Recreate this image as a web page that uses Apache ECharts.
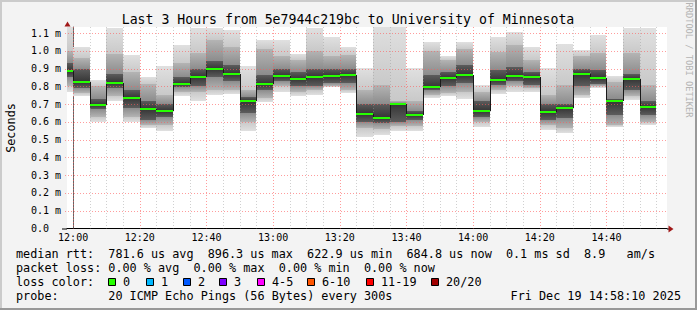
<!DOCTYPE html>
<html><head><meta charset="utf-8">
<script src="https://cdn.jsdelivr.net/npm/echarts@6/dist/echarts.min.js"></script>
<style>html,body{margin:0;padding:0;background:#f3f3f3;}#c{width:697px;height:310px;}</style>
</head><body><div id="c"></div>
<script>
// ---------------- data ----------------
const rangeStart = '11:58:10';
const rangeEnd = '14:58:10';
const stepBounds = ['11:55','12:00','12:05','12:10','12:15','12:20','12:25','12:30','12:35','12:40','12:45','12:50','12:55',
  '13:00','13:05','13:10','13:15','13:20','13:25','13:30','13:35','13:40','13:45','13:50','13:55',
  '14:00','14:05','14:10','14:15','14:20','14:25','14:30','14:35','14:40','14:45','14:50','14:55'];
const xMajorTicks = ['12:00','12:20','12:40','13:00','13:20','13:40','14:00','14:20','14:40'];
const yTickValues = [0.1,0.2,0.3,0.4,0.5,0.6,0.7,0.8,0.9,1.0,1.1];
const yTickLabels = ['0.0','0.1 m','0.2 m','0.3 m','0.4 m','0.5 m','0.6 m','0.7 m','0.8 m','0.9 m','1.0 m','1.1 m'];
// median rtt per 5-minute step (ms)
const median = [0.887,0.826,0.696,0.820,0.737,0.670,0.662,0.814,0.850,0.896,0.871,0.719,0.814,0.859,0.844,0.854,0.859,0.865,
  0.647,0.623,0.702,0.636,0.797,0.848,0.865,0.662,0.837,0.859,0.854,0.657,0.679,0.871,0.848,0.719,0.839,0.685];
// smoke envelope (ms): outer max/min, middle band, dark core
const smokeMax = [1.15,1.02,0.837,1.128,0.977,0.855,0.912,1.034,1.128,1.128,1.118,0.917,1.062,1.062,0.981,1.128,1.075,1.019,
  0.902,1.15,1.15,0.902,1.052,0.972,1.052,0.809,1.075,1.105,1.019,0.902,1.039,1.006,1.09,0.859,1.128,1.128];
const smokeQ3 = [1.00,0.96,0.80,0.98,0.88,0.815,0.75,0.93,0.99,1.06,1.02,0.78,1.01,0.968,0.95,1.00,0.968,0.977,
  0.78,0.81,0.72,0.72,1.00,0.95,1.01,0.77,0.996,1.03,0.95,0.75,0.81,0.968,0.987,0.827,0.987,0.81];
const smokeC2 = [0.93,0.90,0.73,0.87,0.78,0.715,0.70,0.85,0.90,0.94,0.92,0.74,0.865,0.90,0.88,0.90,0.90,0.90,
  0.70,0.70,0.705,0.66,0.865,0.88,0.92,0.72,0.89,0.91,0.88,0.70,0.70,0.90,0.89,0.73,0.87,0.72];
const smokeC1 = [0.85,0.79,0.67,0.79,0.68,0.61,0.63,0.795,0.80,0.85,0.83,0.65,0.78,0.83,0.80,0.80,0.82,0.82,
  0.60,0.595,0.60,0.61,0.78,0.80,0.82,0.63,0.81,0.83,0.81,0.61,0.62,0.80,0.815,0.64,0.78,0.64];
const smokeQ1 = [0.80,0.765,0.625,0.745,0.63,0.58,0.585,0.77,0.77,0.78,0.78,0.60,0.734,0.80,0.77,0.78,0.80,0.78,
  0.565,0.56,0.575,0.575,0.752,0.76,0.77,0.602,0.78,0.80,0.79,0.58,0.565,0.75,0.80,0.585,0.745,0.60];
const smokeMin = [0.77,0.745,0.60,0.72,0.60,0.563,0.546,0.743,0.72,0.752,0.756,0.55,0.711,0.771,0.747,0.752,0.794,0.762,
  0.514,0.527,0.551,0.551,0.737,0.743,0.73,0.574,0.756,0.771,0.771,0.555,0.535,0.734,0.79,0.57,0.724,0.584];
const medianStats = ['781.6','896.3','622.9','684.8'];
const lossStats = ['0.00','0.00','0.00','0.00'];
const lossLabels = ['0','1','2','3','4-5','6-10','11-19','20/20'];
const lossColors = ['#26ff00','#00b8ff','#0059ff','#7e00ff','#ff00ff','#ff5500','#ff0000','#a10000'];

// ---------------- layout ----------------
const FONT = '"DejaVu Sans Mono", monospace';
const G = {left:67, top:27, width:600, height:201.5};
function toMin(s){const p=s.split(':').map(Number);return (p[0]-12)*60+p[1]+(p[2]||0)/60;}
const xMin = toMin(rangeStart), xMax = toMin(rangeEnd);
const yMax = 1.134;

const chart = echarts.init(document.getElementById('c'), null, {renderer:'svg', width:697, height:310});

const smokeData = median.map((m,i)=>[toMin(stepBounds[i]), toMin(stepBounds[i+1]), smokeMin[i], smokeQ1[i], smokeC1[i], m, smokeC2[i], smokeQ3[i], smokeMax[i]]);
const medData = median.map((m,i)=>[toMin(stepBounds[i]), m, toMin(stepBounds[i+1])]);
const vGridData = stepBounds.filter(t=>toMin(t)>xMin && toMin(t)<xMax).map(t=>[toMin(t), xMajorTicks.includes(t)?1:0]);
const hGridData = yTickValues.map(v=>[xMin, v]);

function txt(x,y,text,opt){
  opt = opt||{};
  return {type:'text', x:x, y:y, rotation:opt.rot||0, z:100, silent:true,
    style:{text:text, font:(opt.size||11.8)+'px '+FONT, fill:opt.fill||'#000',
      align:opt.align||'left', verticalAlign:'middle'}};
}
const CW = 7.1, LX = 16;
const lines = [
  {y:254.2, segs:[[0,'median rtt:'],[13,medianStats[0]+' us avg'],[27,medianStats[1]+' us max'],[41,medianStats[2]+' us min'],[55,medianStats[3]+' us now'],[69,'0.1 ms sd'],[80,'8.9'],[86,'am/s']]},
  {y:268.2, segs:[[0,'packet loss:'],[13,lossStats[0]+' % avg'],[25,lossStats[1]+' % max'],[37,lossStats[2]+' % min'],[49,lossStats[3]+' % now']]},
  {y:282.0, segs:[[0,'loss color:']]},
  {y:295.9, segs:[[0,'probe:'],[13,'20 ICMP Echo Pings (56 Bytes) every 300s']]}
];
const gEls = [];
gEls.push({type:'rect', z:90, silent:true, shape:{x:0,y:0,width:697,height:2}, style:{fill:'#cbcbcb'}});
gEls.push({type:'rect', z:90, silent:true, shape:{x:0,y:0,width:2,height:310}, style:{fill:'#cbcbcb'}});
gEls.push({type:'rect', z:90, silent:true, shape:{x:0,y:308,width:697,height:2}, style:{fill:'#999999'}});
gEls.push({type:'rect', z:90, silent:true, shape:{x:695,y:0,width:2,height:310}, style:{fill:'#999999'}});
gEls.push(txt(348,19,'Last 3 Hours from 5e7944c219bc to University of Minnesota',{size:13.2,align:'center'}));
gEls.push(txt(11,128,'Seconds',{size:11.8,align:'center',rot:Math.PI/2}));
gEls.push(txt(688.5,60,'RRDTOOL / TOBI OETIKER',{size:8.7,align:'center',rot:-Math.PI/2,fill:'#b4b4b4'}));
lines.forEach(l=>l.segs.forEach(s=>gEls.push(txt(LX+s[0]*CW, l.y, s[1]))));
gEls.push(txt(681,295.9,'Fri Dec 19 14:58:10 2025',{align:'right'}));
const sqX = [108,145.7,182.7,219,256.7,307.3,366,430.7];
lossLabels.forEach((lab,i)=>{
  const x = Math.round(sqX[i]);
  gEls.push({type:'rect', z:100, silent:true, shape:{x:x+0.5,y:278.5,width:7,height:7}, style:{fill:lossColors[i], stroke:'#000', lineWidth:1}});
  gEls.push(txt(x+15, 282.0, lab));
});
const gx0 = G.left, gy0 = G.top + G.height, gx1 = G.left + G.width;
gEls.push({type:'line', z:95, silent:true, shape:{x1:62,y1:gy0+0.5,x2:gx0,y2:gy0+0.5}, style:{stroke:'#000',lineWidth:1}});
gEls.push({type:'line', z:95, silent:true, shape:{x1:gx1,y1:gy0+0.5,x2:gx1+3,y2:gy0+0.5}, style:{stroke:'#000',lineWidth:1}});
gEls.push({type:'polygon', z:96, silent:true, shape:{points:[[gx1+1.5,gy0-3],[gx1+1.5,gy0+4],[gx1+6.5,gy0+0.5]]}, style:{fill:'#a01818'}});
gEls.push({type:'polygon', z:96, silent:true, shape:{points:[[gx0-2.5,G.top-0.5],[gx0+3.5,G.top-0.5],[gx0+0.5,G.top-5.5]]}, style:{fill:'#a01818'}});

function smokeFill(yHi, yQ3, yC2, yMed, yC1, yQ1, yLo){
  const h = Math.max(1, yLo - yHi);
  let last = 0;
  const pos = y => { let p = Math.min(1, Math.max(last, (y - yHi)/h)); last = p; return p; };
  const stops = [];
  stops.push({offset:0, color:'#e0e0e0'});
  const a = pos(yQ3); stops.push({offset:a, color:'#c9c9c9'}); stops.push({offset:a, color:'#b4b4b4'});
  const b = pos(yC2); stops.push({offset:b, color:'#8c8c8c'}); stops.push({offset:b, color:'#5c5c5c'});
  const m = pos(yMed); stops.push({offset:m, color:'#353535'});
  const c = pos(yC1); stops.push({offset:c, color:'#5c5c5c'}); stops.push({offset:c, color:'#8c8c8c'});
  const d = pos(yQ1); stops.push({offset:d, color:'#b4b4b4'}); stops.push({offset:d, color:'#c9c9c9'});
  stops.push({offset:1, color:'#e0e0e0'});
  return new echarts.graphic.LinearGradient(0,0,0,1,stops);
}

const option = {
  backgroundColor:'#f3f3f3',
  animation:false,
  grid:{left:G.left, top:G.top, width:G.width, height:G.height, show:true, backgroundColor:'#ffffff', borderWidth:0, outerBoundsMode:'none'},
  xAxis:{type:'value', min:xMin, max:xMax,
    axisLine:{show:true, lineStyle:{color:'#000', width:1}},
    axisTick:{show:false}, splitLine:{show:false},
    axisLabel:{customValues:xMajorTicks.map(toMin), margin:4, fontFamily:FONT, fontSize:10, color:'#000',
      formatter:v=>{const t=xMajorTicks.find(s=>Math.abs(toMin(s)-v)<1e-6);return t||'';}}},
  yAxis:{type:'value', min:0, max:yMax, interval:0.1,
    axisLine:{show:true, lineStyle:{color:'#666', width:1}},
    axisTick:{show:false}, splitLine:{show:false},
    axisLabel:{align:'left', margin:36, fontFamily:FONT, fontSize:10, color:'#000', showMaxLabel:false,
      formatter:v=>{const k=Math.round(v*10);return Math.abs(v*10-k)<1e-6 && yTickLabels[k]!==undefined ? yTickLabels[k] : '';}}},
  graphic:{elements:gEls},
  series:[
    {type:'custom', name:'smoke', clip:true, silent:true, data:smokeData, encode:{x:[0,1], y:[2,3,4,5,6,7,8]},
      renderItem:(params,api)=>{
        const xa=Math.round(api.coord([api.value(0),0])[0]), xb=Math.round(api.coord([api.value(1),0])[0]);
        const Y=v=>Math.round(api.coord([api.value(0),v])[1]);
        const yHi=Y(api.value(8)), yLo=Y(api.value(2));
        return {type:'rect', shape:{x:xa,y:yHi,width:xb-xa,height:yLo-yHi},
          style:{fill:smokeFill(yHi,Y(api.value(7)),Y(api.value(6)),Y(api.value(5)),Y(api.value(4)),Y(api.value(3)),yLo)}};
      }},
    {type:'custom', name:'vgrid', silent:true, data:vGridData, encode:{x:0,y:1},
      renderItem:(params,api)=>{
        const cs=params.coordSys; const x=Math.round(api.coord([api.value(0),0])[0])+0.5;
        return {type:'line', shape:{x1:x,y1:cs.y,x2:x,y2:cs.y+cs.height},
          style:{stroke: api.value(1)?'rgba(255,90,90,0.6)':'rgba(150,150,150,0.45)', lineWidth:1, lineDash:[1,2]}};
      }},
    {type:'custom', name:'hgrid', silent:true, data:hGridData, encode:{x:0,y:1},
      renderItem:(params,api)=>{
        const cs=params.coordSys; const y=Math.round(api.coord([api.value(0),api.value(1)])[1])+0.5;
        return {type:'line', shape:{x1:cs.x-2,y1:y,x2:cs.x+cs.width,y2:y},
          style:{stroke:'rgba(255,90,90,0.6)', lineWidth:1, lineDash:[1,2]}};
      }},
    {type:'custom', name:'median', clip:true, silent:true, data:medData, encode:{x:[0,2], y:1},
      renderItem:(params,api)=>{
        const i=params.dataIndex;
        const p0=api.coord([api.value(0),api.value(1)]), p1=api.coord([api.value(2),api.value(1)]);
        const xa=Math.round(p0[0]), xb=Math.round(p1[0]), ym=Math.round(p0[1]);
        const ch=[];
        if(i>0){const yp=Math.round(api.coord([api.value(0),median[i-1]])[1]);
          ch.push({type:'line', shape:{x1:xa+0.5,y1:yp,x2:xa+0.5,y2:ym}, style:{stroke:'#1a1a1a',lineWidth:1}});}
        ch.push({type:'rect', shape:{x:xa,y:ym-1,width:xb-xa,height:2}, style:{fill:lossColors[0]}});
        return {type:'group', children:ch};
      }}
  ]
};
chart.setOption(option);
</script></body></html>
